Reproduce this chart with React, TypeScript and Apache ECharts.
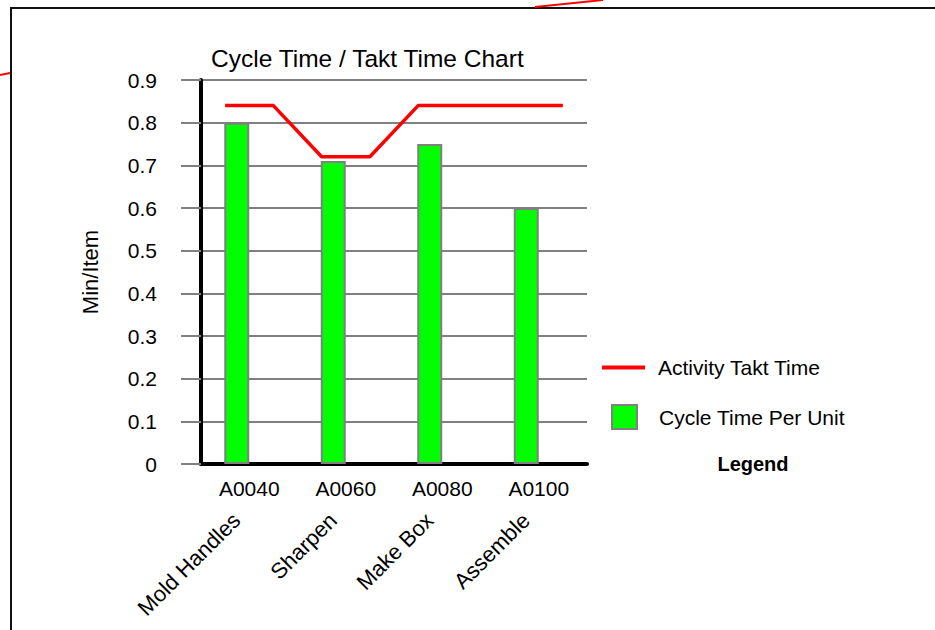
import React, { useEffect, useRef } from "react";
import * as echarts from "echarts";

const activityCodes = ["A0040", "A0060", "A0080", "A0100"];
const activityNames = ["Mold Handles", "Sharpen", "Make Box", "Assemble"];
const cycleTimes = [0.8, 0.71, 0.75, 0.6];
const taktSlots = [
  "A0040 start", "A0040 end",
  "A0060 start", "A0060 end",
  "A0080 start", "A0080 end",
  "A0100 start", "A0100 end",
];
const taktTimes = [0.84, 0.84, 0.72, 0.72, 0.84, 0.84, 0.84, 0.84];
const yTicks = { min: 0, max: 0.9, interval: 0.1 };

const FONT = "'Liberation Sans', Arial, Helvetica, sans-serif";

export default function App() {
  const ref = useRef<HTMLDivElement>(null);

  useEffect(() => {
    if (!ref.current) return;
    const chart = echarts.init(ref.current, null, { renderer: "svg" });
    chart.setOption({
      animation: false,
      backgroundColor: "#ffffff",
      textStyle: { fontFamily: FONT },
      title: {
        text: "Cycle Time / Takt Time Chart",
        left: 211,
        top: 46,
        padding: 0,
        textStyle: { fontFamily: FONT, fontSize: 24.5, fontWeight: "normal", color: "#000" },
      },
      grid: { left: 201, right: 348, top: 80, bottom: 166, containLabel: false },
      legend: [
        {
          data: [{ name: "Activity Takt Time", icon: "path://M0,0H43V4H0Z" }],
          left: 602,
          top: 357,
          padding: 0,
          itemWidth: 43,
          itemHeight: 24,
          symbolKeepAspect: true,
          itemStyle: { color: "#ff0000", borderWidth: 0 },
          textStyle: { fontFamily: FONT, fontSize: 21, color: "#000", padding: [0, 0, 0, 8] },
        },
        {
          data: [{ name: "Cycle Time Per Unit", icon: "rect" }],
          left: 611,
          top: 404,
          padding: 0,
          itemWidth: 25,
          itemHeight: 24,
          itemStyle: { borderColor: "#808080", borderWidth: 2 },
          textStyle: { fontFamily: FONT, fontSize: 21, color: "#000", padding: [0, 0, 0, 17] },
        },
      ],
      xAxis: [
        {
          type: "category",
          data: activityCodes,
          position: "bottom",
          axisLine: { show: true, lineStyle: { color: "#000", width: 4 } },
          axisTick: { show: false },
          splitLine: { show: false },
          axisLabel: { interval: 0, fontFamily: FONT, fontSize: 21, color: "#000", margin: 14 },
        },
        {
          type: "category",
          data: taktSlots,
          position: "top",
          show: false,
          boundaryGap: true,
        },
        {
          type: "category",
          data: activityNames,
          position: "bottom",
          axisLine: { show: false },
          axisTick: { show: false },
          splitLine: { show: false },
          axisLabel: {
            interval: 0,
            rotate: 45,
            fontFamily: FONT,
            fontSize: 22,
            color: "#000",
            margin: 40,
            padding: [0, 18, 0, 0],
          },
        },
      ],
      yAxis: {
        type: "value",
        min: yTicks.min,
        max: yTicks.max,
        interval: yTicks.interval,
        name: "Min/Item",
        nameLocation: "middle",
        nameGap: 100,
        nameTextStyle: { fontFamily: FONT, fontSize: 22, color: "#000" },
        axisLine: { show: true, lineStyle: { color: "#000", width: 4 } },
        axisTick: { show: true, length: 20, lineStyle: { color: "#808080", width: 2 } },
        splitLine: { show: true, lineStyle: { color: "#808080", width: 2 } },
        axisLabel: { fontFamily: FONT, fontSize: 21, color: "#000", margin: 44 },
      },
      series: [
        {
          name: "Cycle Time Per Unit",
          type: "bar",
          xAxisIndex: 0,
          data: cycleTimes,
          barWidth: 25,
          barGap: "0%",
          itemStyle: { color: "#00ff00", borderColor: "#808080", borderWidth: 2 },
          z: 2,
        },
        {
          name: "spacer",
          type: "bar",
          xAxisIndex: 0,
          data: activityCodes.map(() => null),
          barWidth: 25,
          barGap: "0%",
          z: 2,
        },
        {
          name: "Activity Takt Time",
          type: "line",
          xAxisIndex: 1,
          data: taktTimes,
          symbol: "none",
          showSymbol: false,
          lineStyle: { color: "#ff0000", width: 3.5 },
          itemStyle: { color: "#ff0000" },
          z: 5,
        },
      ],
      graphic: [
        {
          type: "rect",
          shape: { x: 11, y: 8, width: 1200, height: 1000 },
          style: { fill: "none", stroke: "#111", lineWidth: 2 },
          silent: true,
        },
        {
          type: "line",
          shape: { x1: 535, y1: 7, x2: 603, y2: 0 },
          style: { stroke: "#ff0000", lineWidth: 2 },
          silent: true,
        },
        {
          type: "line",
          shape: { x1: 0, y1: 75, x2: 10, y2: 73 },
          style: { stroke: "#ff0000", lineWidth: 2 },
          silent: true,
        },
        {
          type: "text",
          x: 753,
          y: 464,
          style: {
            text: "Legend",
            align: "center",
            verticalAlign: "middle",
            fill: "#000",
            font: `bold 20px ${FONT}`,
          },
        },
      ],
    });
    return () => chart.dispose();
  }, []);

  return (
    <div
      ref={ref}
      style={{ position: "fixed", left: 0, top: 0, width: 935, height: 630, background: "#fff" }}
    />
  );
}
